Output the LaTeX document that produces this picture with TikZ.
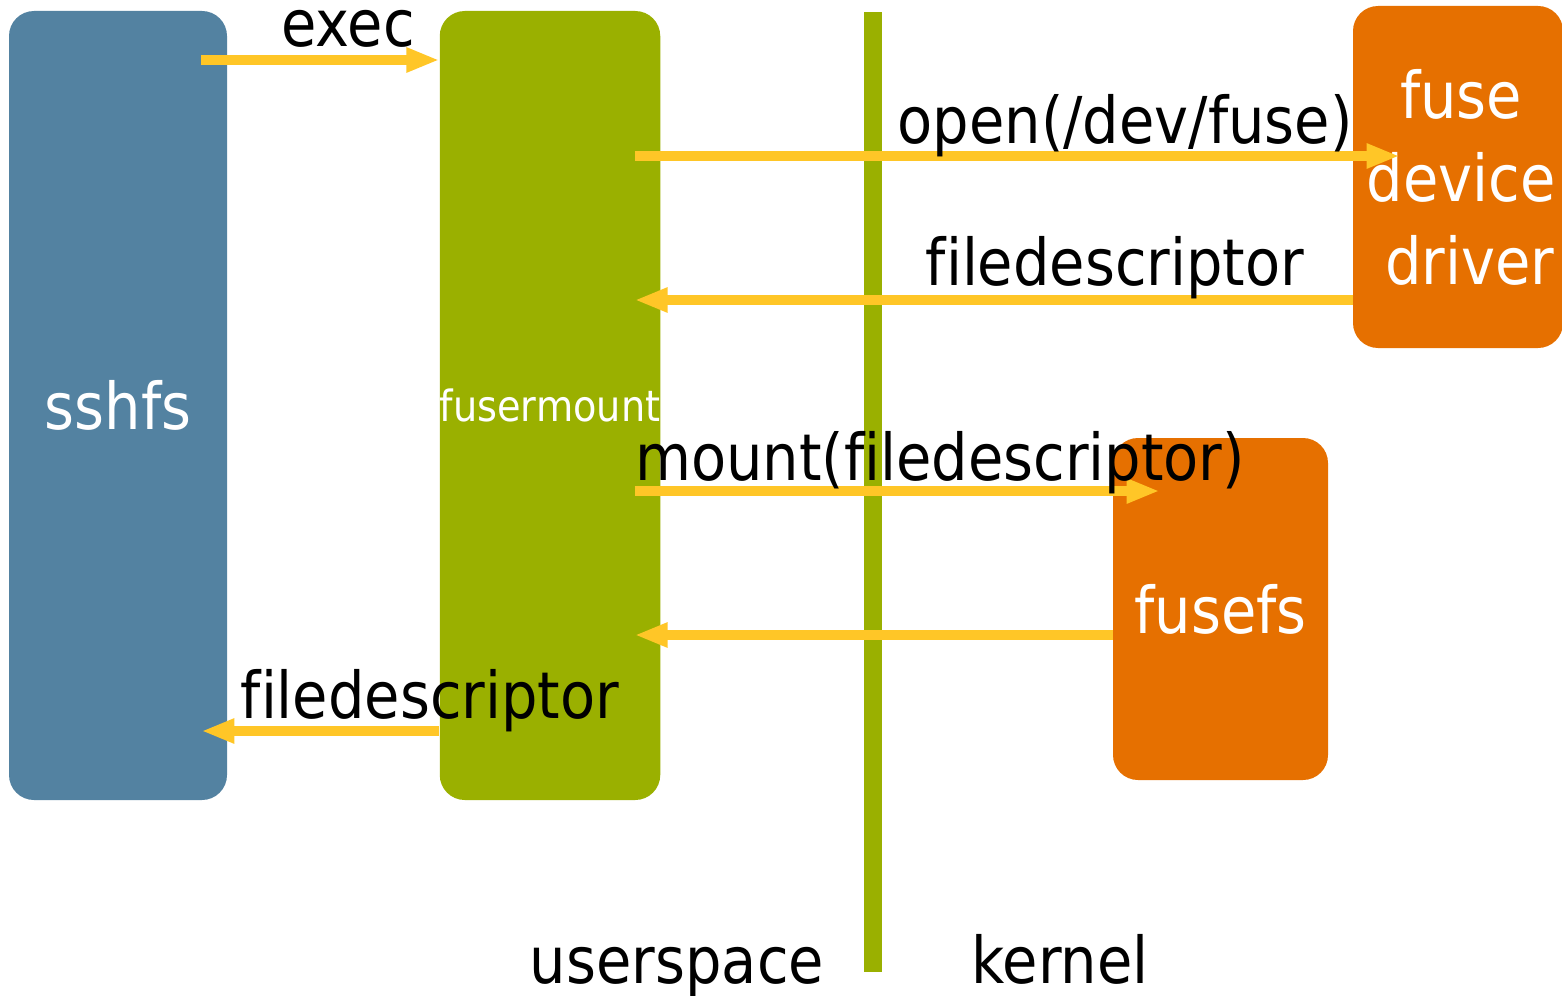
\documentclass[tikz,border=0pt]{standalone}
\usepackage{fontspec}
\setmainfont{DejaVu Sans}[FakeStretch=0.89, Ligatures=NoCommon]
\usetikzlibrary{arrows.meta}

\definecolor{sshblue}{RGB}{83,130,161}
\definecolor{fmgreen}{RGB}{154,176,0}
\definecolor{kernorange}{RGB}{230,112,0}
\definecolor{flowyellow}{RGB}{255,198,39}

\newcommand\bigtxt{\fontsize{32.3}{41.5}\selectfont}
\newcommand\smalltxt{\fontsize{21.5}{26}\selectfont}

\begin{document}
\begin{tikzpicture}[x=0.5pt,y=-0.5pt,
  box/.style={draw=none, rounded corners=12.5pt, inner sep=0pt,
              text=white, font=\bigtxt, align=center},
  flow/.style={draw=flowyellow, line width=5pt,
               -{Triangle[length=16.5pt,width=11.5pt]}},
  lbl/.style={font=\bigtxt, text=black, inner sep=0pt, anchor=base}]

  \useasboundingbox (0,0) rectangle (1562,995);

  % processes and kernel parts
  \node[box, fill=sshblue, minimum width=109pt, minimum height=394.5pt]
    (sshfs) at (118,405.5) {sshfs};
  \node[box, fill=fmgreen, font=\smalltxt, minimum width=109pt, minimum height=394.5pt]
    (fusermount) at (550,405.5) {fusermount};
  \node[box, fill=kernorange, minimum width=105pt, minimum height=171pt]
    (device) at (1458,177) {\hspace*{3pt}fuse\\\hspace*{3pt}device\\\hspace*{12pt}driver};
  \node[box, fill=kernorange, minimum width=107.5pt, minimum height=171pt]
    (fusefs) at (1220.5,609) {fusefs};

  % userspace / kernel boundary
  \fill[fmgreen] (864,12) rectangle (882,972);

  % points just inside the boxes where the arrows start or end
  \path ([xshift=-13pt]sshfs.east) coordinate (sshfsIn);
  \path ([xshift=-13pt]fusermount.east) coordinate (fmIn);
  \path ([xshift=23.5pt]device.west) coordinate (devIn);
  \path ([xshift=23.5pt]fusefs.west) coordinate (fsIn);

  % message flow
  \draw[flow] (sshfsIn |- 0,60) -- (fusermount.west |- 0,60);
  \draw[flow] (fmIn |- 0,156) -- (devIn |- 0,156);
  \draw[flow] (device.west |- 0,300) -- (fmIn |- 0,300);
  \draw[flow] (fmIn |- 0,491) -- (fsIn |- 0,491);
  \draw[flow] (fusefs.west |- 0,635) -- (fmIn |- 0,635);
  \draw[flow] (fusermount.west |- 0,731) -- (sshfsIn |- 0,731);

  % labels
  \node[lbl] (execL) at (348,47) {exec};
  \node[lbl] (openL) at (1125,143) {open(/dev/fuse)};
  \node[lbl] (fdL) at (1115,285) {filedescriptor};
  \node[lbl] (mountL) at (940,480) {mount(filedescriptor)};
  \node[lbl] (fdBackL) at (430,718) {filedescriptor};
  \node[lbl] (userL) at (677,983) {userspace};
  \node[lbl] (kernelL) at (1060,983) {kernel};
\end{tikzpicture}
\end{document}
